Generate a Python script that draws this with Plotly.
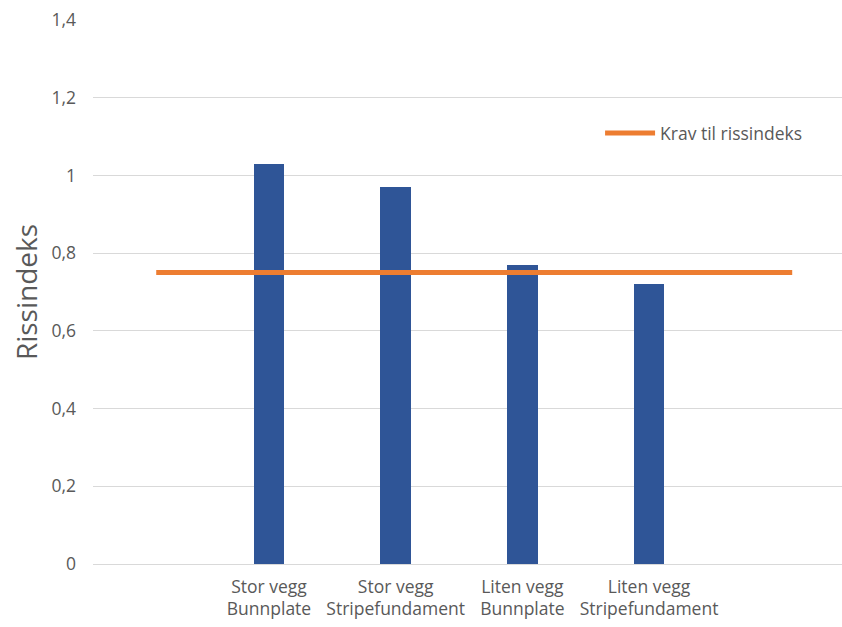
import plotly.graph_objects as go

categories = ["Stor vegg<br>Bunnplate", "Stor vegg<br>Stripefundament",
              "Liten vegg<br>Bunnplate", "Liten vegg<br>Stripefundament"]
rissindeks = [1.03, 0.97, 0.77, 0.72]
krav_value = 0.75
krav_span = [-0.89, 4.13]  # extent of requirement line in category-index units
ytick_vals = [0, 0.2, 0.4, 0.6, 0.8, 1.0, 1.2, 1.4]
ytick_text = ["0", "0,2", "0,4", "0,6", "0,8", "1", "1,2", "1,4"]

xpos = list(range(len(categories)))
FONT = "Open Sans"
GRAY = "#595959"

fig = go.Figure()
fig.add_trace(go.Bar(
    x=xpos, y=rissindeks, width=0.24,
    marker=dict(color="#2F5597", line=dict(width=0)),
    showlegend=False, name="Rissindeks"))
fig.add_trace(go.Scatter(
    x=krav_span, y=[krav_value] * len(krav_span), mode="lines",
    line=dict(color="#ED7D31", width=5),
    name="Krav til rissindeks", showlegend=True))

fig.update_layout(
    width=842, height=627,
    margin=dict(l=93, r=0, t=20, b=63),
    paper_bgcolor="white", plot_bgcolor="white",
    font=dict(family=FONT, color=GRAY, size=17.5),
    legend=dict(x=0.677, y=0.792, xanchor="left", yanchor="middle",
                bgcolor="rgba(0,0,0,0)", font=dict(size=17.5, color=GRAY),
                itemwidth=50),
    bargap=0,
)
fig.update_xaxes(
    range=[-1.389, 4.523], tickvals=xpos, ticktext=categories,
    showgrid=False, zeroline=False, showline=False, ticks="",
    ticklabelstandoff=10,
    tickfont=dict(size=17.5, color=GRAY), fixedrange=True)
fig.update_yaxes(
    range=[0, 1.4], tickvals=ytick_vals, ticktext=ytick_text,
    showgrid=True, gridcolor="#D9D9D9", gridwidth=1,
    zeroline=True, zerolinecolor="#D9D9D9", zerolinewidth=1,
    showline=False, ticks="", ticklabelstandoff=16,
    tickfont=dict(size=17.5, color=GRAY),
    title=dict(text="Rissindeks", font=dict(size=28, color=GRAY), standoff=5),
    fixedrange=True)

fig.write_html("out.html")
